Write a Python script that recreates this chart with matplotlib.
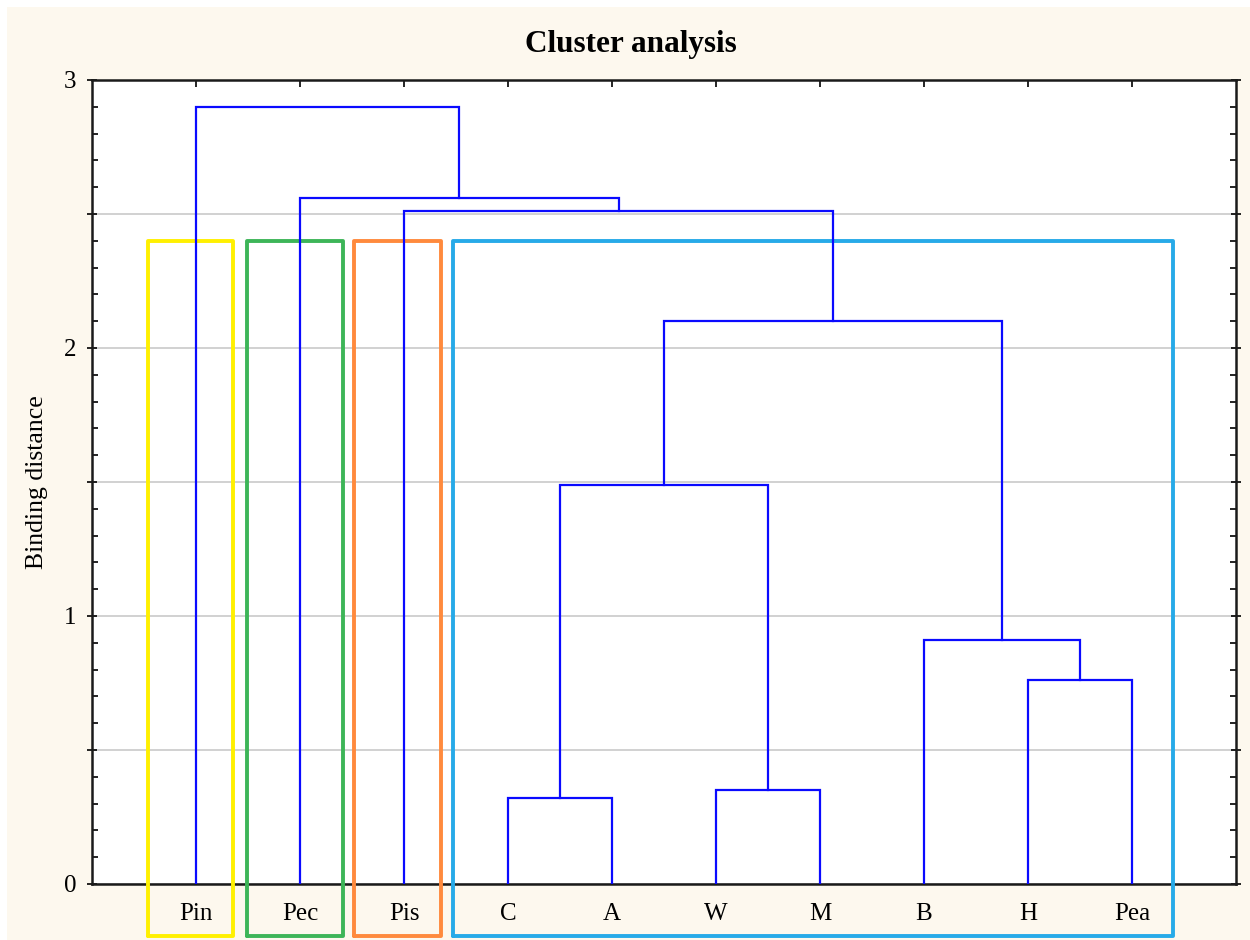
import numpy as np
import matplotlib.pyplot as plt
from matplotlib.lines import Line2D
from matplotlib.patches import Rectangle
from matplotlib.ticker import MultipleLocator, FuncFormatter

# leaf order along the x axis
leaves = ["Pin", "Pec", "Pis", "C", "A", "W", "M", "B", "H", "Pea"]

# agglomeration steps: (child a, child b, binding distance); new nodes get ids 10, 11, ...
merges = [
    (3, 4, 0.32),
    (5, 6, 0.35),
    (8, 9, 0.76),
    (7, 12, 0.91),
    (10, 11, 1.49),
    (14, 13, 2.10),
    (2, 15, 2.51),
    (1, 16, 2.56),
    (0, 17, 2.90),
]

# highlighted groups: first leaf, last leaf (1-based positions), colour
groups = [
    (1, 1, "#FFF000"),
    (2, 2, "#3DB558"),
    (3, 3, "#FF8A3D"),
    (4, 10, "#27AAE8"),
]
# how far each outline reaches left/right of its end leaves
group_pad = [(0.46, 0.36), (0.51, 0.41), (0.48, 0.36), (0.53, 0.39)]
group_top = 2.40
group_bottom = -0.195

BG = "#FDF8EE"
LINK = "#0A0AFF"
SERIF = ["Liberation Serif", "DejaVu Serif"]

fig = plt.figure(figsize=(12.5, 9.4), dpi=100, facecolor="white")
fig.patches.append(Rectangle((7 / 1250, 0), 1, 1 - 7 / 940, transform=fig.transFigure,
                             facecolor=BG, edgecolor="none", zorder=-10))
ax = fig.add_axes([0.0736, 0.0596, 0.9152, 0.8553])
ax.set_facecolor("white")

# node positions/heights, leaves sit at x = 1..n
xpos = {i: i + 1.0 for i in range(len(leaves))}
hgt = {i: 0.0 for i in range(len(leaves))}
for k, (a, b, h) in enumerate(merges):
    xa, xb = xpos[a], xpos[b]
    ax.plot([xa, xa, xb, xb], [hgt[a], h, h, hgt[b]], color=LINK, lw=1.6,
            solid_joinstyle="miter", zorder=4)
    node = len(leaves) + k
    xpos[node] = (xa + xb) / 2
    hgt[node] = h

# rounded outlines around the groups, running below the axis
for (first, last, col), (pl, pr) in zip(groups, group_pad):
    x0, x1 = first - pl, last + pr
    ln = Line2D([x0, x0, x1, x1, x0], [group_bottom, group_top, group_top, group_bottom, group_bottom],
                color=col, lw=2.8, solid_joinstyle="round", solid_capstyle="round",
                clip_on=False, zorder=3)
    ax.add_line(ln)

ax.set_xlim(0, len(leaves) + 1)
ax.set_ylim(0, 3)
ax.set_xticks(np.arange(1, len(leaves) + 1))
ax.set_xticklabels(leaves, family=SERIF, fontsize=18)
ax.yaxis.set_major_locator(MultipleLocator(0.5))
ax.yaxis.set_minor_locator(MultipleLocator(0.1))
ax.yaxis.set_major_formatter(FuncFormatter(lambda v, p: f"{v:.0f}" if abs(v - round(v)) < 1e-6 else ""))
for lab in ax.get_yticklabels():
    lab.set_family(SERIF)
ax.tick_params(axis="y", which="major", direction="inout", length=7, width=1.2,
               labelsize=18, pad=8, right=True)
ax.tick_params(axis="y", which="minor", direction="in", length=4, width=1.2, right=True)
ax.tick_params(axis="x", which="major", direction="in", length=5, width=1.2,
               pad=14, top=True)
ax.grid(axis="y", which="major", color="#C9C9C9", lw=1.2, zorder=0)
ax.set_axisbelow(True)
for s in ax.spines.values():
    s.set_linewidth(1.8)
    s.set_color("#1A1A1A")
    s.set_zorder(2.5)

ax.set_ylabel("Binding distance", family=SERIF, fontsize=18.5, labelpad=11)
fig.text(0.505, 0.953, "Cluster analysis", family=SERIF, fontsize=22.5, fontweight="bold",
         ha="center", va="center")

fig.savefig("out.png", dpi=100, facecolor=fig.get_facecolor())
